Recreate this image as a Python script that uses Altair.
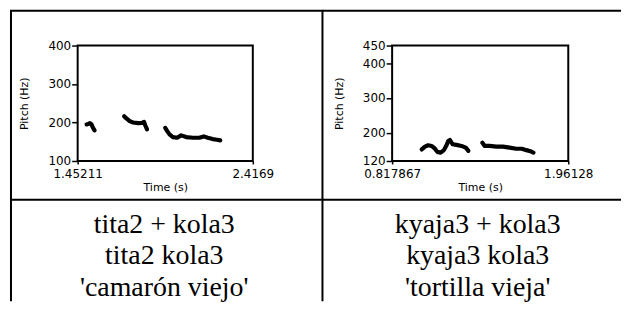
import altair as alt
import pandas as pd

# ---------------- data ----------------
# left panel: tita2 + kola3
left_seg1_time = [1.5014, 1.5108, 1.5195, 1.5289, 1.5343, 1.5398, 1.5453]
left_seg1_pitch = [194.9, 196.5, 198.3, 194.9, 188.7, 183.6, 179.4]
left_seg2_time = [1.7081, 1.7207, 1.7388, 1.7574, 1.7849, 1.8068, 1.8178, 1.8249, 1.8342]
left_seg2_pitch = [216.4, 210.4, 203.5, 200.1, 198.3, 199.1, 201.7, 192.3, 182.0]
left_seg3_time = [1.9345, 1.9455, 1.9581, 1.9767, 2.0003, 2.0222, 2.0497, 2.0864,
                  2.1226, 2.1467, 2.1686, 2.1960, 2.2196, 2.2377]
left_seg3_pitch = [186.1, 177.6, 169.1, 162.1, 160.3, 166.5, 162.1, 160.3,
                   160.3, 163.9, 160.3, 156.9, 155.1, 153.6]
left_x_ticks = [1.45211, 2.4169]
left_y_ticks = [100, 200, 300, 400]
left_lines = ["tita2 + kola3", "tita2 kola3", "'camarón viejo'"]

# right panel: kyaja3 + kola3
right_seg1_time = [1.010, 1.031, 1.052, 1.074, 1.096, 1.111, 1.133, 1.154,
                   1.171, 1.182, 1.193, 1.210, 1.236, 1.268, 1.296, 1.313]
right_seg1_pitch = [153, 161, 165, 163, 155, 146, 144, 151,
                    165, 177, 180, 168, 166, 163, 158, 149]
right_seg2_time = [1.404, 1.419, 1.451, 1.494, 1.537, 1.580, 1.623, 1.660, 1.690, 1.715, 1.735]
right_seg2_pitch = [172, 163, 163, 161, 161, 158, 155, 155, 151, 148, 144]
right_x_ticks = [0.817867, 1.96128]
right_y_ticks = [120, 200, 300, 400, 450]
right_lines = ["kyaja3 + kola3", "kyaja3 kola3", "'tortilla vieja'"]


def contour_frame(segments):
    rows = []
    for i, (ts, ps) in enumerate(segments):
        for t, p in zip(ts, ps):
            rows.append({"seg": i, "time": t, "pitch": p})
    return pd.DataFrame(rows)


one = pd.DataFrame({"k": [0]})


def panel(df, xticks, yticks, lines, width, text_x, hrules, vrules):
    xs = alt.Scale(domain=[xticks[0], xticks[-1]], nice=False, zero=False)
    ys = alt.Scale(domain=[yticks[0], yticks[-1]], nice=False, zero=False)
    contour = alt.Chart(df).mark_line(
        color="black", strokeWidth=4.2, strokeCap="round", strokeJoin="round"
    ).encode(
        x=alt.X("time:Q", scale=xs, title="Time (s)",
                axis=alt.Axis(values=xticks, format=".6~g", tickSize=3,
                              labelPadding=5, labelFlush=False, labelOverlap=False,
                              titlePadding=2)),
        y=alt.Y("pitch:Q", scale=ys, title="Pitch (Hz)",
                axis=alt.Axis(values=yticks, tickSize=6, labelPadding=1,
                              labelOverlap=False, titlePadding=18)),
        detail="seg:N",
    )
    layers = [contour]
    for (x1, x2, y) in hrules:
        layers.append(alt.Chart(one).mark_rule(color="black", strokeWidth=2).encode(
            x=alt.value(x1), x2=alt.value(x2), y=alt.value(y)))
    for (x, y1, y2) in vrules:
        layers.append(alt.Chart(one).mark_rule(color="black", strokeWidth=2).encode(
            x=alt.value(x), y=alt.value(y1), y2=alt.value(y2)))
    txt = alt.Chart(pd.DataFrame({"label": ["\n".join(lines)]})).mark_text(
        font="Liberation Serif", fontSize=28, align="center", baseline="alphabetic",
        lineBreak="\n", lineHeight=32, color="black"
    ).encode(text="label:N", x=alt.value(text_x), y=alt.value(188))
    layers.append(txt)
    return alt.layer(*layers).properties(width=width, height=116)


left_df = contour_frame([(left_seg1_time, left_seg1_pitch),
                         (left_seg2_time, left_seg2_pitch),
                         (left_seg3_time, left_seg3_pitch)])
right_df = contour_frame([(right_seg1_time, right_seg1_pitch),
                          (right_seg2_time, right_seg2_pitch)])

left = panel(left_df, left_x_ticks, left_y_ticks, left_lines, 176, 87,
             hrules=[(-68, 247, -35), (-68, 247, 155)],
             vrules=[(-67, -35, 257), (246, -35, 257)])
right = panel(right_df, right_x_ticks, right_y_ticks, right_lines, 177, 86,
              hrules=[(-70, 230, -35), (-70, 230, 155)],
              vrules=[])

chart = alt.hconcat(left, right, spacing=140, bounds="flush").properties(
    padding=0, background="white"
).configure_view(
    stroke="black", strokeWidth=2
).configure_axis(
    grid=False, domain=False, tickColor="black", tickWidth=1.5,
    labelColor="black", labelFont="DejaVu Sans", labelFontSize=12,
    titleColor="black", titleFont="DejaVu Sans", titleFontSize=11,
    titleFontWeight="normal"
)

chart.save("out.html", embed_options={"renderer": "svg", "actions": False})
